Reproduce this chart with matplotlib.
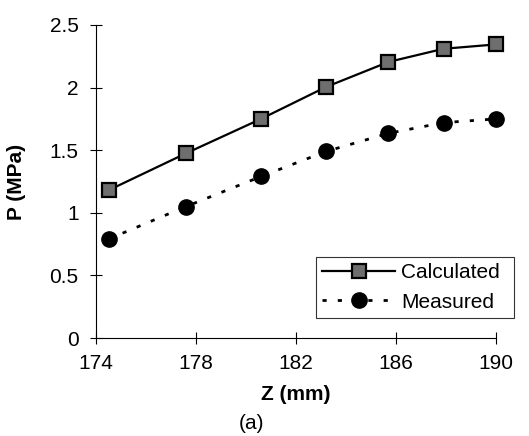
import matplotlib
matplotlib.use("Agg")
import matplotlib.pyplot as plt

plt.rcParams['font.family'] = ['Liberation Sans', 'DejaVu Sans']

# Pressure along Z, calculated vs measured
z_mm = [174.5, 177.6, 180.6, 183.2, 185.7, 187.9, 190.0]
p_calc = [1.18, 1.475, 1.75, 2.005, 2.205, 2.31, 2.345]
p_meas = [0.79, 1.05, 1.29, 1.49, 1.635, 1.72, 1.75]

x_ticks = [174, 178, 182, 186, 190]
y_ticks = [0, 0.5, 1, 1.5, 2, 2.5]
y_ticklabels = ['0', '0.5', '1', '1.5', '2', '2.5']

fig = plt.figure(figsize=(5.29, 4.36), dpi=100)
ax = fig.add_axes([96 / 529, 1 - 338 / 436, 400 / 529, 313 / 436])

ax.plot(z_mm, p_calc, color='black', lw=1.6, marker='s', ms=10,
        mfc='#6e6e6e', mec='black', mew=1.6, label='Calculated', clip_on=False)
ax.plot(z_mm, p_meas, color='black', lw=2, ls=(0, (1.5, 4)), marker='o', ms=11,
        mfc='black', mec='black', label='Measured', clip_on=False)

ax.set_xlim(174, 190)
ax.set_ylim(0, 2.5)
ax.set_xticks(x_ticks)
ax.set_yticks(y_ticks)
ax.set_yticklabels(y_ticklabels)
ax.tick_params(direction='inout', length=9, width=0.8, labelsize=15)
ax.tick_params(axis='x', pad=7)
ax.tick_params(axis='y', pad=8)
for s in ['top', 'right']:
    ax.spines[s].set_visible(False)
for s in ['left', 'bottom']:
    ax.spines[s].set_linewidth(0.8)

ax.set_xlabel('Z (mm)', fontsize=15, fontweight='bold', labelpad=9)
ax.set_ylabel('P (MPa)', fontsize=15, fontweight='bold', labelpad=17)

leg = ax.legend(loc='lower left', bbox_to_anchor=(0.55, 0.064, 0.495, 0.233),
                mode='expand', fontsize=15, frameon=True, fancybox=False,
                edgecolor='black', handlelength=3.5, handletextpad=0.3,
                borderaxespad=0, borderpad=0.3, labelspacing=0.5)
leg.get_frame().set_linewidth(0.8)

fig.text(252 / 529, 1 - 423 / 436, '(a)', ha='center', va='center', fontsize=15)

fig.savefig('out.png', dpi=100)
